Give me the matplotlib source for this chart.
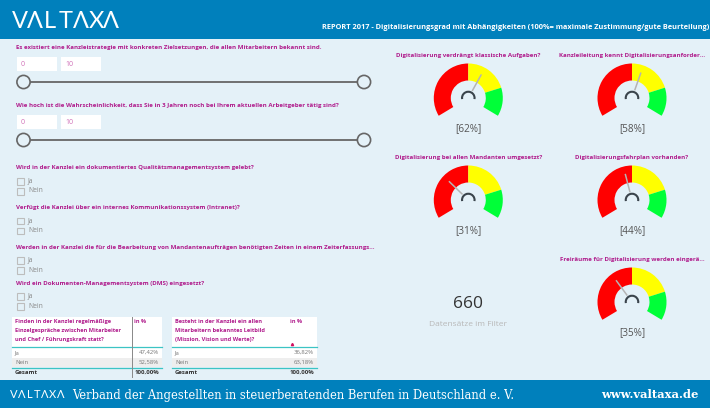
"""Valtaxa report dashboard, drawn in pixel coordinates."""
import matplotlib
matplotlib.use('Agg')
import matplotlib.pyplot as plt
from matplotlib.patches import Wedge, Rectangle, Circle, Arc
import numpy as np

plt.rcParams['font.family'] = ['Open Sans', 'DejaVu Sans']

gauge_titles = ['Digitalisierung verdrängt klassische Aufgaben?',
                'Kanzleileitung kennt Digitalisierungsanforder...',
                'Digitalisierung bei allen Mandanten umgesetzt?',
                'Digitalisierungsfahrplan vorhanden?',
                'Freiräume für Digitalisierung werden eingerä...']
gauge_values = [62, 58, 31, 44, 35]
zone_limits = [0, 50, 80, 100]
zone_colors = ['#FF0000', '#FFFF00', '#00FF38']

slider_titles = ['Es existiert eine Kanzleistrategie mit konkreten Zielsetzungen, die allen Mitarbeitern bekannt sind.',
                 'Wie hoch ist die Wahrscheinlichkeit, dass Sie in 3 Jahren noch bei Ihrem aktuellen Arbeitgeber tätig sind?']
slider_range = ['0', '10']

check_titles = ['Wird in der Kanzlei ein dokumentiertes Qualitätsmanagementsystem gelebt?',
                'Verfügt die Kanzlei über ein internes Kommunikationssystem (Intranet)?',
                'Werden in der Kanzlei die für die Bearbeitung von Mandantenaufträgen benötigten Zeiten in einem Zeiterfassungs...',
                'Wird ein Dokumenten-Managementsystem (DMS) eingesetzt?']
check_options = ['Ja', 'Nein']

table_heads = ['Finden in der Kanzlei regelmäßige\nEinzelgespräche zwischen Mitarbeiter\nund Chef / Führungskraft statt?',
               'Besteht in der Kanzlei ein allen\nMitarbeitern bekanntes Leitbild\n(Mission, Vision und Werte)?']
table_rows = ['Ja', 'Nein', 'Gesamt']
table_values = [['47,42%', '52,58%', '100,00%'], ['36,82%', '63,18%', '100,00%']]

record_count = '660'
record_label = 'Datensätze im Filter'
report_title = 'REPORT 2017 - Digitalisierungsgrad mit Abhängigkeiten (100%= maximale Zustimmung/gute Beurteilung)'
footer_text = 'Verband der Angestellten in steuerberatenden Berufen in Deutschland e. V.'
footer_url = 'www.valtaxa.de'
logo_letters = 'VΛLTΛXΛ'

BLUE = '#0080BC'
BG = '#E4F1F8'
MAGENTA = '#B01C8C'
TEAL = '#3CC4C4'
GAUGE_SPAN = 242

fig = plt.figure(figsize=(7.1, 4.08), dpi=100, facecolor=BG)
ax = fig.add_axes([0, 0, 1, 1])
ax.set_xlim(0, 710)
ax.set_ylim(408, 0)
ax.axis('off')


def title(x, y, s, size=4.45):
    ax.text(x, y, s, color=MAGENTA, fontsize=size, fontweight='bold', va='center')


def logo(x, y, step, size):
    for i, ch in enumerate(logo_letters):
        ax.text(x + i*step, y, ch, color='white', fontsize=size, ha='center', va='center',
                family=['Lato', 'DejaVu Sans'])


def gauge(cx, cy, value, name):
    # angles measured clockwise from straight up, y axis points down
    for lo, hi, col in zip(zone_limits[:-1], zone_limits[1:], zone_colors):
        a1 = (lo/100 - 0.5)*GAUGE_SPAN
        a2 = (hi/100 - 0.5)*GAUGE_SPAN
        ax.add_patch(Wedge((cx, cy), 34.5, a1 - 90, a2 - 90, width=17, color=col, lw=0))
    ax.add_patch(Arc((cx, cy), 12.5, 12.5, theta1=-190, theta2=10, color='#3A444C', lw=1.5))
    a = (value/100 - 0.5)*GAUGE_SPAN
    t = np.radians(a)
    ax.plot([cx + 8*np.sin(t), cx + 27*np.sin(t)], [cy - 8*np.cos(t), cy - 27*np.cos(t)],
            color='#B4B4B4', lw=1.1, solid_capstyle='butt')
    ax.text(cx, cy + 30.5, '[%d%%]' % value, color='#555555', fontsize=7.2, ha='center', va='center')
    ax.text(cx, cy - 43, name, color=MAGENTA, fontsize=4.42, fontweight='bold', ha='center', va='center')


# header and footer
ax.add_patch(Rectangle((0, 0), 710, 39, color=BLUE, lw=0))
ax.add_patch(Rectangle((0, 380), 710, 28, color=BLUE, lw=0))
logo(20, 21, 15.2, 17)
logo(14, 395, 7.8, 8)
ax.text(322, 27.5, report_title, color='white', fontsize=5.3, fontweight='bold', va='center')
ax.text(72, 395, footer_text, color='white', fontsize=8.3, va='center', family='DejaVu Serif')
ax.text(601, 395, footer_url, color='white', fontsize=8.25, fontweight='bold', va='center', family='DejaVu Serif')

# sliders
for name, y in zip(slider_titles, [48, 106]):
    title(16, y, name)
    for x, s in zip([17, 61], slider_range):
        ax.add_patch(Rectangle((x, y + 9), 40, 13.5, color='white', lw=0))
        ax.text(x + 4, y + 16, s, color='#D070B8', fontsize=5, va='center')
    ly = y + 34
    ax.plot([23, 364], [ly, ly], color='#666666', lw=1.3, zorder=2)
    for x in [23.5, 364]:
        ax.add_patch(Circle((x, ly), 6.6, fc=BG, ec='#666666', lw=1.2, zorder=3))

# check boxes
check_rows = [(168, 181, 191), (207.5, 220.5, 230.5), (247, 260, 270), (283, 296, 306)]
for name, (ty, y1, y2) in zip(check_titles, check_rows):
    title(16, ty, name)
    for y, opt in zip([y1, y2], check_options):
        ax.add_patch(Rectangle((17, y - 3), 6.5, 6.5, fc='none', ec='#BDBDBD', lw=0.8))
        ax.text(28, y, opt, color='#888888', fontsize=4.9, va='center')

# tables
table_x = [(12, 162, 131, 134), (172, 317, 290, 290)]
for (x0, x1, xv, xp), head, vals in zip(table_x, table_heads, table_values):
    ax.add_patch(Rectangle((x0, 317), x1 - x0, 30, color='white', lw=0))
    ax.add_patch(Rectangle((x0, 347), x1 - x0, 11, color='white', lw=0))
    ax.add_patch(Rectangle((x0, 358), x1 - x0, 9, color='#EEEEEE', lw=0))
    ax.text(x0 + 3, 330.5, head, color=MAGENTA, fontsize=4.1, fontweight='bold', va='center', linespacing=1.9)
    ax.text(xp, 321.5, 'in %', color=MAGENTA, fontsize=4.1, fontweight='bold', va='center')
    for y in [347, 367.5]:
        ax.plot([x0, x1], [y, y], color=TEAL, lw=0.9)
    for y, row, val in zip([352.5, 362.5, 372.5], table_rows, vals):
        bold = 'bold' if row == 'Gesamt' else 'normal'
        col = '#333333' if row == 'Gesamt' else '#777777'
        ax.text(x0 + 3, y, row, color=col, fontsize=4.3, fontweight=bold, va='center')
        ax.text(x1 - 3, y, val, color=col, fontsize=4.3, fontweight=bold, va='center', ha='right')
ax.plot([131.5, 131.5], [317, 377], color='#888888', lw=0.7)
ax.plot([292], [344], marker='^', ms=1.6, color='#D01060')

# gauges
gauge_pos = [(468.3, 98), (632, 98), (468.3, 200), (632, 200), (632, 302)]
for (cx, cy), v, name in zip(gauge_pos, gauge_values, gauge_titles):
    gauge(cx, cy, v, name)

# record count card
ax.text(468, 304, record_count, color='#333333', fontsize=12.5, ha='center', va='center')
ax.text(468, 325, record_label, color='#B8B8B8', fontsize=6, ha='center', va='center')

fig.savefig('out.png', dpi=100, facecolor=BG)
